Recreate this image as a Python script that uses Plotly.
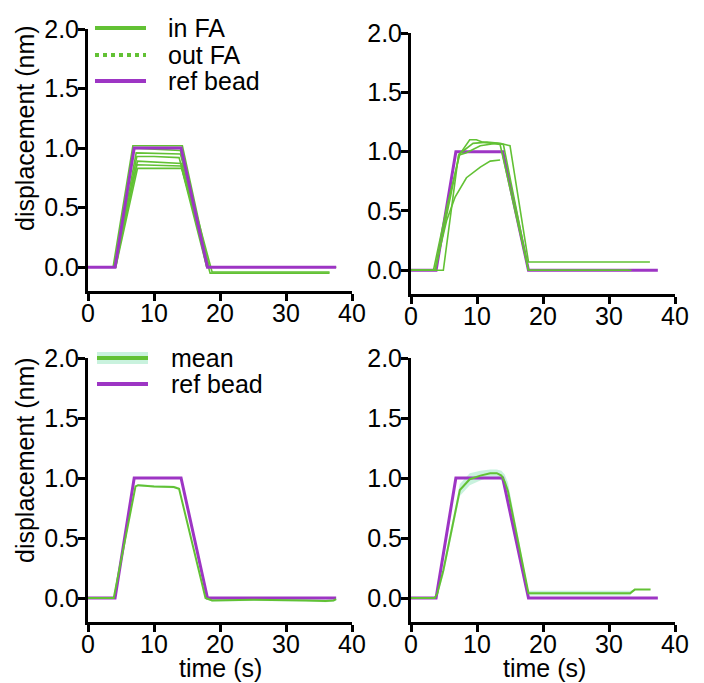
import plotly.graph_objects as go
from plotly.subplots import make_subplots

GREEN = "#62c134"
PURPLE = "#9d35c4"
BAND = "rgba(165,234,200,0.6)"
FONT = "Liberation Sans, Arial, sans-serif"
# page has an 8px body margin, so the figure is drawn 8px in from the corner
OFF = 8
W, H = 704 - OFF, 683 - OFF

def px(x):
    return (x - OFF) / W

def py(y):
    return 1 - (y - OFF) / H

# ── data (time in s, displacement in nm) ────────────────────────────────────
ref_left_t = [0, 4.1, 7.0, 14.1, 18.1, 37.6]
ref_left_d = [0, 0, 1.0, 1.0, 0, 0]
ref_right_t = [0, 3.8, 6.8, 13.9, 17.8, 37.4]
ref_right_d = [0, 0, 1.0, 1.0, 0, 0]

# top-left: individual beads in focal adhesions
fa1_t = [0, 3.8, 6.8, 14.3, 18.3, 37.6]
fa1_d = [0, 0, 1.02, 1.02, 0, 0]
fa2_t = [0, 4.0, 7.0, 10.0, 14.0, 18.0, 37.6]
fa2_d = [0, 0, 1.0, 0.99, 0.98, 0, 0]
fa3_t = [0, 4.1, 7.3, 14.0, 18.8, 36.6]
fa3_d = [0, 0, 0.96, 0.95, -0.04, -0.04]
fa4_t = [0, 4.2, 7.4, 10.0, 13.8, 18.5, 36.6]
fa4_d = [0, 0, 0.93, 0.93, 0.92, -0.05, -0.05]
fa5_t = [0, 4.0, 7.5, 11.0, 14.2, 18.2, 37.0]
fa5_d = [0, 0, 0.89, 0.88, 0.87, 0, 0]
fa6_t = [0, 4.1, 7.4, 14.1, 18.0, 37.0]
fa6_d = [0, 0, 0.86, 0.85, 0, 0]
fa7_t = [0, 4.2, 7.5, 14.2, 18.4, 37.2]
fa7_d = [0, 0, 0.83, 0.83, 0, 0]

# top-right: individual beads
fb1_t = [0, 3.4, 5.5, 7.4, 8.9, 9.9, 10.9, 12.5, 13.5, 17.8, 33.4]
fb1_d = [0, 0, 0.55, 0.98, 1.1, 1.1, 1.08, 1.07, 1.06, 0, 0]
fb2_t = [0, 4.9, 7.2, 8.4, 10.5, 13.0, 14.0, 17.8, 33.0]
fb2_d = [0, 0, 0.97, 0.99, 1.05, 1.07, 1.06, 0, 0]
fb3_t = [0, 3.6, 5.4, 6.7, 8.4, 10.5, 12.0, 13.5]
fb3_d = [0, 0, 0.42, 0.62, 0.78, 0.87, 0.92, 0.93]
fb4_t = [0, 3.7, 7.3, 9.4, 11.5, 13.5, 15.0, 17.8, 36.2]
fb4_d = [0, 0, 0.98, 1.07, 1.08, 1.07, 1.05, 0.07, 0.07]

# bottom-left: mean of beads
mean_l_t = [0, 3.9, 7.2, 7.6, 10.0, 13.0, 13.8, 17.8, 18.8, 25.0, 33.0, 36.0, 37.2, 37.6]
mean_l_d = [0, 0, 0.93, 0.94, 0.93, 0.925, 0.91, 0, -0.02, -0.015, -0.02, -0.025, -0.02, -0.01]
mean_l_e = [0, 0.005, 0.01, 0.01, 0.01, 0.01, 0.01, 0.01, 0.01, 0.01, 0.01, 0.01, 0.01, 0.01]

# bottom-right: mean of beads with error band
mean_r_t = [0, 3.6, 4.0, 4.9, 7.4, 8.9, 10.5, 12.0, 13.0, 13.7, 14.2, 14.7, 17.8, 25.0, 33.2, 33.9, 36.3]
mean_r_d = [0, 0, 0.04, 0.23, 0.9, 0.99, 1.02, 1.04, 1.04, 1.02, 0.97, 0.89, 0.04, 0.04, 0.04, 0.07, 0.07]
mean_r_e = [0, 0.005, 0.02, 0.04, 0.05, 0.05, 0.04, 0.03, 0.03, 0.04, 0.06, 0.07, 0.02, 0.02, 0.02, 0.0, 0.0]

fig = make_subplots(rows=2, cols=2)

def line(t, d, color, width, dash="solid"):
    return go.Scatter(x=t, y=d, mode="lines", showlegend=False, hoverinfo="skip",
                      line=dict(color=color, width=width, dash=dash))

def band(t, d, e):
    upper = [v + s for v, s in zip(d, e)]
    lower = [v - s for v, s in zip(d, e)]
    return go.Scatter(x=list(t) + list(t)[::-1], y=upper + lower[::-1], mode="lines",
                      fill="toself", fillcolor=BAND, line=dict(width=0),
                      showlegend=False, hoverinfo="skip")

# top-left
for t, d in [(fa1_t, fa1_d), (fa2_t, fa2_d), (fa3_t, fa3_d), (fa4_t, fa4_d),
             (fa5_t, fa5_d), (fa6_t, fa6_d), (fa7_t, fa7_d)]:
    fig.add_trace(line(t, d, GREEN, 1.6), row=1, col=1)
fig.add_trace(line(ref_left_t, ref_left_d, PURPLE, 3), row=1, col=1)

# top-right
fig.add_trace(line(ref_right_t, ref_right_d, PURPLE, 3), row=1, col=2)
for t, d in [(fb1_t, fb1_d), (fb2_t, fb2_d), (fb3_t, fb3_d), (fb4_t, fb4_d)]:
    fig.add_trace(line(t, d, GREEN, 1.6), row=1, col=2)

# bottom-left
fig.add_trace(band(mean_l_t, mean_l_d, mean_l_e), row=2, col=1)
fig.add_trace(line(ref_left_t, ref_left_d, PURPLE, 3), row=2, col=1)
fig.add_trace(line(mean_l_t, mean_l_d, GREEN, 2), row=2, col=1)

# bottom-right
fig.add_trace(band(mean_r_t, mean_r_d, mean_r_e), row=2, col=2)
fig.add_trace(line(ref_right_t, ref_right_d, PURPLE, 3), row=2, col=2)
fig.add_trace(line(mean_r_t, mean_r_d, GREEN, 2), row=2, col=2)

# ── axes ─────────────────────────────────────────────────────────────────────
axis_common = dict(showline=True, linewidth=3, linecolor="black", ticks="outside",
                   ticklen=7, tickwidth=3, tickcolor="black", showgrid=False,
                   zeroline=False, automargin=False, tickfont=dict(size=25, color="black"))
x_dom = {1: [px(88), px(352)], 2: [px(411), px(675)]}
y_dom = {(1, 1): [py(291), py(29)], (1, 2): [py(294), py(33)],
         (2, 1): [py(622), py(358)], (2, 2): [py(622), py(358)]}
for r in (1, 2):
    for c in (1, 2):
        fig.update_xaxes(axis_common, range=[0, 40], tickvals=[0, 10, 20, 30, 40],
                         ticklabelstandoff=-9, domain=x_dom[c], row=r, col=c)
        fig.update_yaxes(axis_common, range=[-0.2, 2.0], tickvals=[0, 0.5, 1, 1.5, 2],
                         tickformat=".1f", ticklabelstandoff=-6,
                         domain=y_dom[(r, c)], row=r, col=c)

# ── axis titles as annotations (y title sits above centre, as in the original)
annotations = []
for yc in (128, 460):
    annotations.append(dict(text="displacement (nm)", xref="paper", yref="paper",
                            x=px(25), y=py(yc), textangle=-90, showarrow=False,
                            xanchor="center", yanchor="middle",
                            font=dict(size=25, color="black")))
for xc in (221, 544):
    annotations.append(dict(text="time (s)", xref="paper", yref="paper",
                            x=px(xc), y=py(668), showarrow=False,
                            xanchor="center", yanchor="middle",
                            font=dict(size=25, color="black")))

# ── legends drawn by hand ────────────────────────────────────────────────────
shapes = []
def leg_line(y, color, dash="solid", width=4, x0=95, x1=146):
    shapes.append(dict(type="line", xref="paper", yref="paper", x0=px(x0), x1=px(x1),
                       y0=py(y), y1=py(y), line=dict(color=color, width=width, dash=dash)))
def leg_text(y, text, x=166):
    annotations.append(dict(text=text, xref="paper", yref="paper", x=px(x), y=py(y),
                            showarrow=False, xanchor="left", yanchor="middle",
                            font=dict(size=25, color="black")))

leg_line(28, GREEN)
leg_text(28, "in FA")
leg_line(55, GREEN, dash="dot")
leg_text(55, "out FA")
leg_line(81, PURPLE)
leg_text(81, "ref bead")

shapes.append(dict(type="rect", xref="paper", yref="paper", x0=px(97), x1=px(148),
                   y0=py(364), y1=py(352), fillcolor=BAND, line=dict(width=0)))
leg_line(358, GREEN, x0=97, x1=148)
leg_text(358, "mean", x=169)
leg_line(384, PURPLE, x0=97, x1=148)
leg_text(384, "ref bead", x=169)

fig.update_layout(
    width=W, height=H,
    margin=dict(l=0, r=0, t=0, b=0),
    paper_bgcolor="white", plot_bgcolor="white",
    font=dict(family=FONT, size=25, color="black"),
    showlegend=False,
    annotations=annotations,
    shapes=shapes,
)

fig.write_html("out.html")
